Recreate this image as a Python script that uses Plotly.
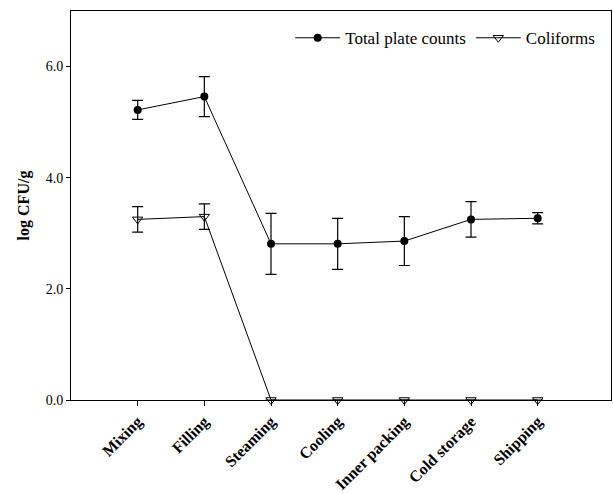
import plotly.graph_objects as go

stages = ["Mixing", "Filling", "Steaming", "Cooling", "Inner packing", "Cold storage", "Shipping"]
tick_labels = ["Mixing", "Filling", "Steaming", "Cooling", "Inner packing", "Cold storage", "Shipping"]
tpc = [5.22, 5.46, 2.81, 2.81, 2.86, 3.25, 3.27]
tpc_err = [0.17, 0.36, 0.55, 0.46, 0.44, 0.32, 0.10]
coli = [3.25, 3.30, 0.0, 0.0, 0.0, 0.0, 0.0]
coli_err = [0.23, 0.23, 0, 0, 0, 0, 0]

xpos = list(range(1, len(stages) + 1))
serif = "Liberation Serif, Times New Roman, serif"

fig = go.Figure()
fig.add_trace(go.Scatter(
    x=xpos, y=tpc, name="Total plate counts", mode="lines+markers",
    line=dict(color="black", width=1),
    marker=dict(symbol="circle", size=8, color="black"),
    error_y=dict(type="data", array=tpc_err, visible=True, color="black", thickness=1.2, width=5.5),
    cliponaxis=False,
))
fig.add_trace(go.Scatter(
    x=xpos, y=coli, name="Coliforms", mode="lines+markers",
    line=dict(color="black", width=1),
    marker=dict(symbol="triangle-down-open", size=9, color="black", line=dict(width=1)),
    error_y=dict(type="data", array=coli_err, visible=True, color="black", thickness=1.2, width=5.5),
    cliponaxis=False,
))

fig.update_layout(
    width=613, height=494,
    margin=dict(l=71, r=2, t=11, b=94),
    paper_bgcolor="white", plot_bgcolor="white",
    font=dict(family=serif, color="black"),
    showlegend=True,
    legend=dict(orientation="h", x=0.98, xanchor="right", y=0.93, yanchor="middle",
                font=dict(family=serif, size=17, color="black"),
                itemwidth=45, bgcolor="rgba(0,0,0,0)"),
    xaxis=dict(range=[0, 8.1], tickmode="array", tickvals=xpos, ticktext=tick_labels,
               tickangle=-45, ticks="outside", ticklen=5, tickcolor="black",
               tickfont=dict(family=serif, size=16, color="black", weight="bold"),
               showline=True, linecolor="black", linewidth=1, mirror=True,
               showgrid=False, zeroline=False, automargin=False),
    yaxis=dict(range=[0, 7], tickvals=[0, 2, 4, 6], tickformat=".1f",
               ticks="outside", ticklen=4, tickcolor="black",
               tickfont=dict(family=serif, size=14, color="black"),
               title=dict(text="log CFU/g", font=dict(family=serif, size=16, color="black", weight="bold"), standoff=12),
               showline=True, linecolor="black", linewidth=1, mirror=True,
               showgrid=False, zeroline=False, automargin=False),
)

# remove the default page margin so the figure sits at the window's top-left corner
fig.write_html("out.html",
               config={"displayModeBar": False},
               post_script="document.body.style.margin='0';document.body.style.overflow='hidden';")
